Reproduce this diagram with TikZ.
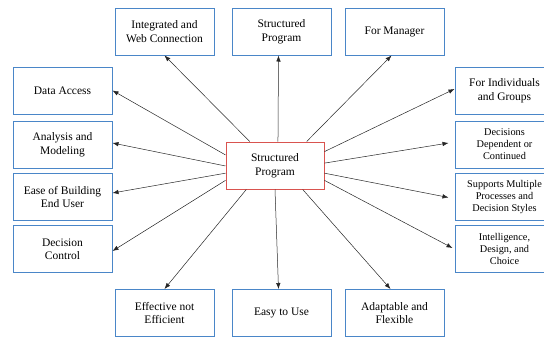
\documentclass[tikz,border=0pt]{standalone}
\usepackage{fontspec}
\newfontfamily\tnr{Liberation Serif}
\usetikzlibrary{calc,arrows.meta}
\definecolor{bbl}{HTML}{4A86C8}
\definecolor{rd}{HTML}{D9534F}
\begin{document}
\begin{tikzpicture}[x=1pt,y=-1pt,
 box/.style={draw=bbl,line width=1pt,minimum width=99pt,minimum height=47pt,align=center,inner sep=1pt,font=\tnr\fontsize{11.5}{13.5}\selectfont},
 sbox/.style={box,font=\tnr\fontsize{10.3}{12}\selectfont},
 cbox/.style={box,draw=rd},
 arr/.style={-{Latex[length=6pt,width=4.5pt]},line width=0.5pt,draw=black!85}]
\useasboundingbox (0,0) rectangle (544,338);
\clip (0,0) rectangle (544,338);
% top row
\node[box] (iw) at (164.5,31.5) {Integrated and\\Web Connection};
\node[box] (sp) at (281.5,31.5) {Structured\\Program};
\node[box] (fm) at (394.5,31.5) {For Manager};
% left column
\node[box] (da) at (62.5,90.5) {Data Access};
\node[box] (am) at (62.5,144.5) {Analysis and\\Modeling};
\node[box] (eb) at (62.5,197) {Ease of Building\\End User};
\node[box] (dc) at (62.5,249) {Decision\\Control};
% right column
\node[box] (fi) at (504.5,90.5) {For Individuals\\and Groups};
\node[sbox] (dd) at (504.5,144.5) {Decisions\\Dependent or\\Continued};
\node[sbox] (sm) at (504.5,197) {Supports Multiple\\Processes and\\Decision Styles};
\node[sbox] (ic) at (504.5,249) {Intelligence,\\Design, and\\Choice};
% bottom row
\node[box] (ef) at (164.5,313) {Effective not\\Efficient};
\node[box] (eu) at (281.5,313) {Easy to Use};
\node[box] (af) at (394.5,313) {Adaptable and\\Flexible};
% center
\node[cbox,minimum width=98pt] (c) at (275,165.5) {Structured\\Program};
% arrows
\draw[arr] ($(c.north west)!0.245!(c.north east)$) -- (iw.south);
\draw[arr] ($(c.north west)!0.53!(c.north east)$) -- ($(sp.south)+(-3,0)$);
\draw[arr] ($(c.north west)!0.82!(c.north east)$) -- ($(fm.south)+(-3,0)$);
\draw[arr] ($(c.north west)!0.28!(c.south west)$) -- (da.east);
\draw[arr] ($(c.north west)!0.51!(c.south west)$) -- ($(am.east)+(0,-1.5)$);
\draw[arr] ($(c.north west)!0.66!(c.south west)$) -- ($(eb.east)+(0,-4)$);
\draw[arr] ($(c.north west)!0.81!(c.south west)$) -- ($(dc.east)+(0,2)$);
\draw[arr] ($(c.south west)!0.21!(c.south east)$) -- (ef.north);
\draw[arr] ($(c.south west)!0.5!(c.south east)$) -- ($(eu.north)+(-3,0)$);
\draw[arr] ($(c.south west)!0.78!(c.south east)$) -- ($(af.north)+(-4,0)$);
\draw[arr] ($(c.north east)!0.21!(c.south east)$) -- ($(fi.west)+(0,-1.5)$);
\draw[arr] ($(c.north east)!0.45!(c.south east)$) -- ($(dd.west)+(-6,-1.5)$);
\draw[arr] ($(c.north east)!0.66!(c.south east)$) -- ($(sm.west)+(-6,0.5)$);
\draw[arr] ($(c.north east)!0.81!(c.south east)$) -- ($(ic.west)+(-2,-1)$);
\end{tikzpicture}
\end{document}
